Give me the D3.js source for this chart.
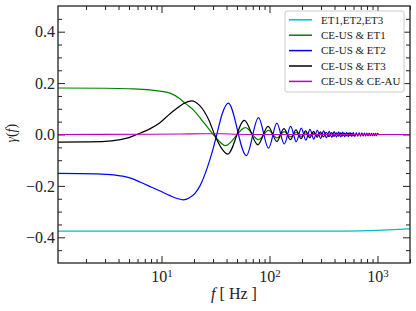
<!DOCTYPE html>
<html>
<head>
<meta charset="utf-8">
<title>overlap reduction functions</title>
<script src="https://d3js.org/d3.v7.min.js"></script>
<style>
  body { margin: 0; background: #fff; }
  text { font-family: "Liberation Serif", "Times New Roman", serif; }
</style>
</head>
<body>
<div id="chart"></div>
<script>
// legend labels and line colours
var labels = ["ET1,ET2,ET3", "CE-US & ET1", "CE-US & ET2", "CE-US & ET3", "CE-US & CE-AU"];
var colors = ["#00bfbf", "#008000", "#0000ff", "#000000", "#bf00bf"];

// [f in Hz, gamma]
var etTriangle = [[1.1, -0.376], [100, -0.376], [400, -0.376], [700, -0.375], [1000, -0.373], [1400, -0.370], [2000, -0.367]];

var ceusEt1 = [[1.1, 0.181], [3, 0.180], [5, 0.178], [7.8, 0.174], [10, 0.168], [12, 0.161], [14.8, 0.139], [16.7, 0.120],
  [19.9, 0.094], [23.1, 0.061], [26.6, 0.029], [30.2, 0], [34, -0.025], [39, -0.043],
  [60, 0.027], [79, -0.020], [98, 0.016], [117, -0.013], [137, 0.011], [157, -0.0095], [177, 0.0085],
  [197, -0.0075], [217, 0.0068], [237, -0.0062], [257, 0.0057], [277, -0.0052], [297, 0.0048], [320, 0], [2000, 0]];

var ceusEt2 = [[1.1, -0.151], [2.5, -0.153], [3.6, -0.157], [5, -0.168], [6.4, -0.186], [8, -0.204], [9.6, -0.219],
  [12, -0.238], [14, -0.249], [15.9, -0.254], [18, -0.247], [20.5, -0.228], [22.7, -0.200], [26.6, -0.128],
  [29.7, -0.063], [32.5, 0], [36.5, 0.081], [41.5, 0.122],
  [61, -0.082], [79, 0.066], [98, -0.053], [117, 0.044], [137, -0.037], [157, 0.032], [177, -0.028],
  [197, 0.025], [217, -0.022], [237, 0.020], [257, -0.018], [277, 0.0165], [297, -0.015], [317, 0.014],
  [337, -0.013], [357, 0.012], [377, -0.0115], [397, 0.011], [417, -0.0105], [437, 0.010], [457, -0.0095],
  [477, 0.009], [497, -0.0087], [517, 0.0084], [537, -0.0081], [557, 0.0078], [577, -0.0075], [597, 0.0072],
  [617, -0.007], [637, 0.0068], [657, -0.0066], [677, 0.0064], [697, -0.0062], [717, 0.006], [737, -0.0058],
  [757, 0.0056], [777, -0.0054], [797, 0.0052], [817, -0.0051], [837, 0.005], [857, -0.0049], [877, 0.0048],
  [897, -0.0047], [917, 0.0046], [937, -0.0045], [957, 0.0044], [977, -0.0043], [997, 0.0042], [1030, 0], [2000, 0]];

var ceusEt3 = [[1.1, -0.030], [2, -0.029], [3, -0.027], [4, -0.021], [5, -0.012], [5.9, 0], [7.8, 0.022], [9.6, 0.045],
  [12, 0.081], [14, 0.103], [15.9, 0.120], [19, 0.131], [22.5, 0.113], [27.5, 0.055], [31, 0], [35.5, -0.050], [41, -0.076],
  [58.5, 0.055], [78, -0.040], [97, 0.032], [117, -0.027], [136, 0.023], [156, -0.020], [176, 0.018],
  [196, -0.016], [216, 0.014], [236, -0.013], [256, 0.012], [276, -0.011], [296, 0.010], [316, -0.0094],
  [336, 0.0088], [356, -0.0082], [376, 0.0077], [396, -0.0072], [416, 0.0068], [436, -0.0064], [456, 0.006],
  [476, -0.0057], [496, 0.0054], [516, -0.0052], [536, 0.005], [556, -0.0048], [576, 0.0046], [596, -0.0044],
  [630, 0], [2000, 0]];

var ceusCeau = [[1.1, 0], [8, 0.001], [15, 0.002], [25, 0.003], [35, 0.003], [50, 0.001], [80, 0], [2000, 0]];

var series = [etTriangle, ceusEt1, ceusEt2, ceusEt3, ceusCeau];

var xMajor = [10, 100, 1000];
var yMajor = [-0.4, -0.2, 0, 0.2, 0.4];

// set the dimensions and margins of the graph
var margin = {top: 6, right: 6, bottom: 48, left: 58},
    width = 416 - margin.left - margin.right,
    height = 311 - margin.top - margin.bottom;

var svg = d3.select("#chart")
  .append("svg")
    .attr("width", 416)
    .attr("height", 311)
  .append("g")
    .attr("transform", "translate(" + margin.left + "," + margin.top + ")");

var x = d3.scaleLog().domain([1.1, 2000]).range([0, width]);
var y = d3.scaleLinear().domain([-0.5, 0.5]).range([height, 0]);

var xMinor = [];
[1, 10, 100, 1000].forEach(function(dec) {
  for (var m = 2; m < 10; m++) {
    var v = m * dec;
    if (v >= 1.1 && v <= 2000) xMinor.push(v);
  }
});
var yMinor = d3.range(-0.45, 0.5, 0.05).filter(function(v) {
  return yMajor.every(function(t) { return Math.abs(t - v) > 1e-6; });
});

var ink = "#222";

function styleAxis(g) {
  g.attr("font-family", "Liberation Serif, Times New Roman, serif")
   .attr("font-size", 16)
   .attr("color", ink);
  g.select(".domain").remove();
  g.selectAll(".tick line").attr("stroke-width", 1);
}

// bottom axis
var gx = svg.append("g").attr("transform", "translate(0," + height + ")")
  .call(d3.axisBottom(x).tickValues(xMajor).tickSize(-7).tickSizeOuter(0).tickPadding(8).tickFormat(function() { return ""; }));
styleAxis(gx);
gx.selectAll(".tick text").each(function(d) {
  var t = d3.select(this);
  t.append("tspan").text("10");
  t.append("tspan").attr("dy", "-0.45em").attr("font-size", 11).text(Math.round(Math.log10(d)));
});
svg.append("g").attr("transform", "translate(0," + height + ")")
  .call(d3.axisBottom(x).tickValues(xMinor).tickSize(-4).tickSizeOuter(0).tickFormat(function() { return ""; }))
  .call(styleAxis);

// top axis, ticks only
svg.append("g").call(d3.axisTop(x).tickValues(xMajor).tickSize(-7).tickSizeOuter(0).tickFormat(function() { return ""; })).call(styleAxis);
svg.append("g").call(d3.axisTop(x).tickValues(xMinor).tickSize(-4).tickSizeOuter(0).tickFormat(function() { return ""; })).call(styleAxis);

// left axis
svg.append("g")
  .call(d3.axisLeft(y).tickValues(yMajor).tickSize(-7).tickSizeOuter(0).tickPadding(3).tickFormat(d3.format(".1f")))
  .call(styleAxis);
svg.append("g")
  .call(d3.axisLeft(y).tickValues(yMinor).tickSize(-4).tickSizeOuter(0).tickFormat(function() { return ""; }))
  .call(styleAxis);

// right axis, ticks only
svg.append("g").attr("transform", "translate(" + width + ",0)")
  .call(d3.axisRight(y).tickValues(yMajor).tickSize(-7).tickSizeOuter(0).tickFormat(function() { return ""; })).call(styleAxis);
svg.append("g").attr("transform", "translate(" + width + ",0)")
  .call(d3.axisRight(y).tickValues(yMinor).tickSize(-4).tickSizeOuter(0).tickFormat(function() { return ""; })).call(styleAxis);

// the curves
svg.append("clipPath").attr("id", "clip")
  .append("rect").attr("width", width).attr("height", height);

var line = d3.line()
  .x(function(d) { return x(d[0]); })
  .y(function(d) { return y(d[1]); })
  .curve(d3.curveMonotoneX);

svg.append("g").attr("clip-path", "url(#clip)")
  .selectAll("path")
  .data(series)
  .join("path")
    .attr("fill", "none")
    .attr("stroke", function(d, i) { return colors[i]; })
    .attr("stroke-width", 1.2)
    .attr("d", line);

// frame
svg.append("rect")
  .attr("width", width).attr("height", height)
  .attr("fill", "none").attr("stroke", ink).attr("stroke-width", 1.3);

// axis labels
var xl = svg.append("text")
  .attr("x", width / 2).attr("y", height + 36)
  .attr("text-anchor", "middle").attr("font-size", 16).attr("fill", ink);
xl.append("tspan").attr("font-style", "italic").text("f");
xl.append("tspan").text(" [ Hz ]");

var yl = svg.append("text")
  .attr("transform", "translate(" + (16 - margin.left) + "," + y(0.005) + ") rotate(-90)")
  .attr("text-anchor", "middle").attr("font-size", 14).attr("fill", ink);
yl.append("tspan").attr("font-style", "italic").text("γ");
yl.append("tspan").text("(");
yl.append("tspan").attr("font-style", "italic").text("f");
yl.append("tspan").text(")");

// legend
var lg = svg.append("g").attr("transform", "translate(" + (285 - margin.left) + "," + (11 - margin.top) + ")");
lg.append("rect")
  .attr("width", 119).attr("height", 81).attr("rx", 2)
  .attr("fill", "#fff").attr("stroke", "#cccccc").attr("stroke-width", 1);
var item = lg.selectAll("g.item")
  .data(labels)
  .join("g")
    .attr("class", "item")
    .attr("transform", function(d, i) { return "translate(0," + (8.8 + i * 15.4) + ")"; });
item.append("line")
  .attr("x1", 4).attr("x2", 27)
  .attr("stroke", function(d, i) { return colors[i]; })
  .attr("stroke-width", 1.5);
item.append("text")
  .attr("x", 36).attr("dy", "0.35em")
  .attr("font-size", 11).attr("fill", ink)
  .text(function(d) { return d; });
</script>
</body>
</html>
